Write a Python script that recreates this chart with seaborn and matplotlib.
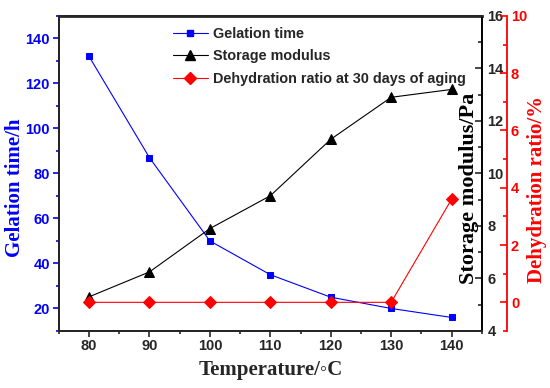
import matplotlib
matplotlib.use("Agg")
import matplotlib.pyplot as plt
from matplotlib.lines import Line2D
from matplotlib.ticker import MultipleLocator
import pandas as pd
import seaborn as sns

# data
temperature = [80, 90, 100, 110, 120, 130, 140]
gelation_time = [132, 87, 50, 35, 25, 20, 16]
storage_modulus = [5.3, 6.25, 7.9, 9.15, 11.3, 12.9, 13.2]
dehydration_ratio = [0, 0, 0, 0, 0, 0, 3.6]

df = pd.DataFrame({
    "temperature": temperature,
    "gelation": gelation_time,
    "storage": storage_modulus,
    "dehydration": dehydration_ratio,
})

sns.set_style("ticks")
plt.rcParams["font.family"] = ["Liberation Sans", "DejaVu Sans"]
plt.rcParams["font.weight"] = "bold"

serif = ["Liberation Serif", "DejaVu Serif"]
BLUE = "#0000ff"
RED = "#ff0000"
LW = 0.8

fig = plt.figure(figsize=(5.5, 3.88), dpi=100)
ax = fig.add_axes([0.107, 0.147, 0.769, 0.812])
ax2 = ax.twinx()
ax3 = ax.twinx()
ax3.spines["right"].set_position(("axes", 1.059))

sns.lineplot(data=df, x="temperature", y="gelation", ax=ax, color=BLUE,
             marker="s", markersize=5, markeredgecolor=BLUE, linewidth=LW, legend=False)
sns.lineplot(data=df, x="temperature", y="storage", ax=ax2, color="black",
             marker="^", markersize=7, markeredgecolor="black", linewidth=LW, legend=False)
sns.lineplot(data=df, x="temperature", y="dehydration", ax=ax3, color=RED,
             marker="D", markersize=6, markeredgecolor=RED, linewidth=LW, legend=False)

ax.set_xlim(75, 145)
ax.set_ylim(10, 150)
ax2.set_ylim(4, 16)
ax3.set_ylim(-1, 10)

ax.xaxis.set_major_locator(MultipleLocator(10))
ax.xaxis.set_minor_locator(MultipleLocator(5))
ax.yaxis.set_minor_locator(MultipleLocator(10))
ax2.yaxis.set_major_locator(MultipleLocator(2))
ax2.yaxis.set_minor_locator(MultipleLocator(1))
ax3.yaxis.set_minor_locator(MultipleLocator(1))
ax.set_yticks(range(20, 141, 20))
ax3.set_yticks(range(0, 11, 2))

for a in (ax, ax2, ax3):
    for s in a.spines.values():
        s.set_linewidth(1.3)

ax.spines["left"].set_color(BLUE)
ax.spines["top"].set_linewidth(2)
ax2.spines["right"].set_color("black")
ax3.spines["right"].set_color(RED)

ax.tick_params(axis="x", which="major", length=4, width=1.2, labelsize=10.5,
               direction="out", pad=2)
ax.tick_params(axis="x", which="minor", length=2.5, width=1.2, direction="out")
ax.tick_params(axis="y", which="major", length=4.5, width=1.2, labelsize=10.5,
               colors=BLUE, direction="out", pad=2)
ax.tick_params(axis="y", which="minor", length=2.5, width=1.2, colors=BLUE, direction="out")
ax2.tick_params(axis="y", which="major", length=5, width=1.2, labelsize=10.5,
                direction="in", pad=4)
ax2.tick_params(axis="y", which="minor", length=3, width=1.2, direction="in")
ax3.tick_params(axis="y", which="major", length=5, width=1.2, labelsize=10.5,
                colors=RED, direction="in", pad=3)
ax3.tick_params(axis="y", which="minor", length=3, width=1.2, colors=RED, direction="in")

for lab in ax.get_xticklabels() + ax.get_yticklabels() + ax2.get_yticklabels() + ax3.get_yticklabels():
    lab.set_fontweight("bold")

ax.set_xlabel("Temperature/\u25e6C", family=serif, fontsize=15, fontweight="bold", labelpad=5)
ax.set_ylabel("Gelation time/h", family=serif, fontsize=15, fontweight="bold", color=BLUE)
ax.yaxis.set_label_coords(-0.08, 0.454)
ax2.set_ylabel("Storage modulus/Pa", family=serif, fontsize=16, fontweight="bold", color="black")
ax2.yaxis.set_label_coords(0.947, 0.454)
ax3.set_ylabel("Dehydration ratio/%", family=serif, fontsize=15, fontweight="bold", color=RED)
ax3.yaxis.set_label_coords(1.106, 0.45)

handles = [
    Line2D([], [], color=BLUE, marker="s", markersize=5, linewidth=LW),
    Line2D([], [], color="black", marker="^", markersize=7, linewidth=LW),
    Line2D([], [], color=RED, marker="D", markersize=6, linewidth=LW),
]
labels = ["Gelation time", "Storage modulus", "Dehydration ratio at 30 days of aging"]
ax3.legend(handles, labels, loc="upper left", bbox_to_anchor=(0.27, 0.966), frameon=False,
           prop={"size": 10.4, "weight": "bold"}, handlelength=2.4, handletextpad=0.4,
           labelspacing=0.6, borderpad=0, borderaxespad=0)

fig.savefig("out.png", dpi=100)
